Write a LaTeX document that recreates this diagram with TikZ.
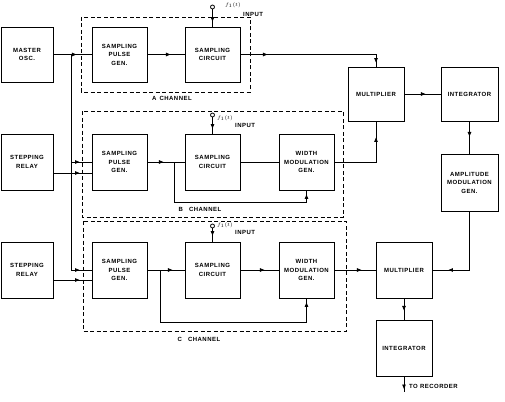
\documentclass[tikz,border=0pt]{standalone}
\usepackage{fontspec}
\newfontfamily\lblfont{Liberation Sans Bold}[LetterSpace=8]
\usetikzlibrary{arrows.meta,decorations.markings,calc}
\tikzset{
 >={Triangle[length=4.5pt,width=3.5pt]},
 ln/.style={line width=0.9pt},
 arr/.style={postaction={decorate,decoration={markings,mark=at position #1 with {\arrow{>}}}}},
 blk/.style={draw,line width=0.9pt,minimum width=55pt,minimum height=55pt,align=center,inner sep=0pt,font=\lblfont\fontsize{6}{8.5}\selectfont},
 chbox/.style={draw,line width=0.75pt,dash pattern=on 4pt off 2.5pt},
 lbl/.style={font=\lblfont\fontsize{6}{7}\selectfont,inner sep=0pt},
 inp/.style={circle,draw,line width=0.8pt,inner sep=0pt,minimum size=4pt},
 flbl/.style={inner sep=0pt,anchor=west,font=\fontsize{5.5}{6}\selectfont},
}
\begin{document}
\begin{tikzpicture}[x=1pt,y=-1pt]
\useasboundingbox (0,0) rectangle (505,401);
% channel boxes
\draw[chbox] (81,17) rectangle (250,92);
\draw[chbox] (82,111) rectangle (343,217);
\draw[chbox] (83,221) rectangle (346,331);
\node[lbl] (labA) at (172,98) {A\enspace CHANNEL};
\node[lbl] (labB) at (200,209) {B\quad CHANNEL};
\node[lbl] (labC) at (199,339) {C\quad CHANNEL};
% blocks
\node[blk,minimum width=52pt] (osc) at (27,54.5) {MASTER\\OSC.};
\node[blk] (spgA) at (119.5,54.5) {SAMPLING\\PULSE\\GEN.};
\node[blk] (scA) at (212.5,54.5) {SAMPLING\\CIRCUIT};
\node[blk,minimum width=56pt,minimum height=54pt] (mulA) at (376,94) {MULTIPLIER};
\node[blk,minimum width=57pt,minimum height=54pt] (intA) at (469.5,94) {INTEGRATOR};
\node[blk,minimum width=52pt,minimum height=56pt] (relB) at (27,162) {STEPPING\\RELAY};
\node[blk,minimum height=56pt] (spgB) at (119.5,162) {SAMPLING\\PULSE\\GEN.};
\node[blk,minimum height=56pt] (scB) at (212.5,162) {SAMPLING\\CIRCUIT};
\node[blk,minimum height=56pt] (wmB) at (306.5,162) {WIDTH\\MODULATION\\GEN.};
\node[blk,minimum width=57pt,minimum height=57pt] (amp) at (469.5,182.5) {AMPLITUDE\\MODULATION\\GEN.};
\node[blk,minimum width=52pt,minimum height=56pt] (relC) at (27,270) {STEPPING\\RELAY};
\node[blk,minimum height=56pt] (spgC) at (119.5,270) {SAMPLING\\PULSE\\GEN.};
\node[blk,minimum height=56pt] (scC) at (212.5,270) {SAMPLING\\CIRCUIT};
\node[blk,minimum height=56pt] (wmC) at (306.5,270) {WIDTH\\MODULATION\\GEN.};
\node[blk,minimum width=56pt,minimum height=56pt] (mulC) at (404,270) {MULTIPLIER};
\node[blk,minimum width=56pt,minimum height=56pt] (intC) at (404,348) {INTEGRATOR};
% inputs
\node[inp] (inA) at (212.5,7) {};
\node[inp] (inB) at (212.5,115) {};
\node[inp] (inC) at (212.5,226) {};
\draw[ln,arr=-5pt] (inA) -- (scA);
\draw[ln,arr=-5pt] (inB) -- (scB);
\draw[ln,arr=-6pt] (inC) -- (scC);
\node[flbl] (fA) at (225,5) {$f_1(t)$};
\node[flbl] (fB) at (217,118) {$f_1(t)$};
\node[flbl] (fC) at (217,225) {$f_1(t)$};
\node[lbl,anchor=west] (iA) at (243,14) {INPUT};
\node[lbl,anchor=west] (iB) at (235,125) {INPUT};
\node[lbl,anchor=west] (iC) at (235,232) {INPUT};
% bus
\coordinate (bA) at (71,54.5);
\coordinate (bB) at (71,162);
\draw[ln,arr=23pt] (osc) -- (spgA);
\draw[ln,arr=-12pt] (bA) |- (spgC.west);
\draw[ln,arr=-12pt] (bB) -- (spgB.west);
\draw[ln,arr=-12pt] ($(relB.east)+(0,11)$) -- ($(spgB.west)+(0,11)$);
\draw[ln,arr=-12pt] ($(relC.east)+(0,10)$) -- ($(spgC.west)+(0,10)$);
% A channel
\draw[ln,arr=23pt] (spgA) -- (scA);
\draw[ln,arr=27pt,arr=-4pt] (scA.east) -| (mulA.north);
\draw[ln,arr=21pt] (mulA) -- (intA);
\draw[ln,arr=15pt] (intA) -- (amp);
\draw[ln,arr=-16pt] (amp.south) |- (mulC.east);
\draw[ln,arr=12pt] (mulC) -- (intC);
\coordinate (rec) at (404,392);
\draw[ln,arr=-3pt] (intC.south) -- (rec);
\node[lbl,anchor=west] (torec) at (409,386) {TO RECORDER};
% B channel
\draw[ln,arr=16pt] (spgB) -- (scB);
\coordinate (jB) at (174,162);
\draw[ln,arr=-4pt] (jB) -- (174,202) -| (wmB.south);
\draw[ln] (scB) -- (wmB);
\draw[ln,arr=-16pt] (wmB.east) -| (mulA.south);
% C channel
\draw[ln,arr=25pt] (spgC) -- (scC);
\coordinate (jC) at (160,270);
\draw[ln,arr=-4pt] (jC) -- (160,322) -| (wmC.south);
\draw[ln,arr=24pt] (scC) -- (wmC);
\draw[ln,arr=27pt] (wmC) -- (mulC);
\end{tikzpicture}
\end{document}
